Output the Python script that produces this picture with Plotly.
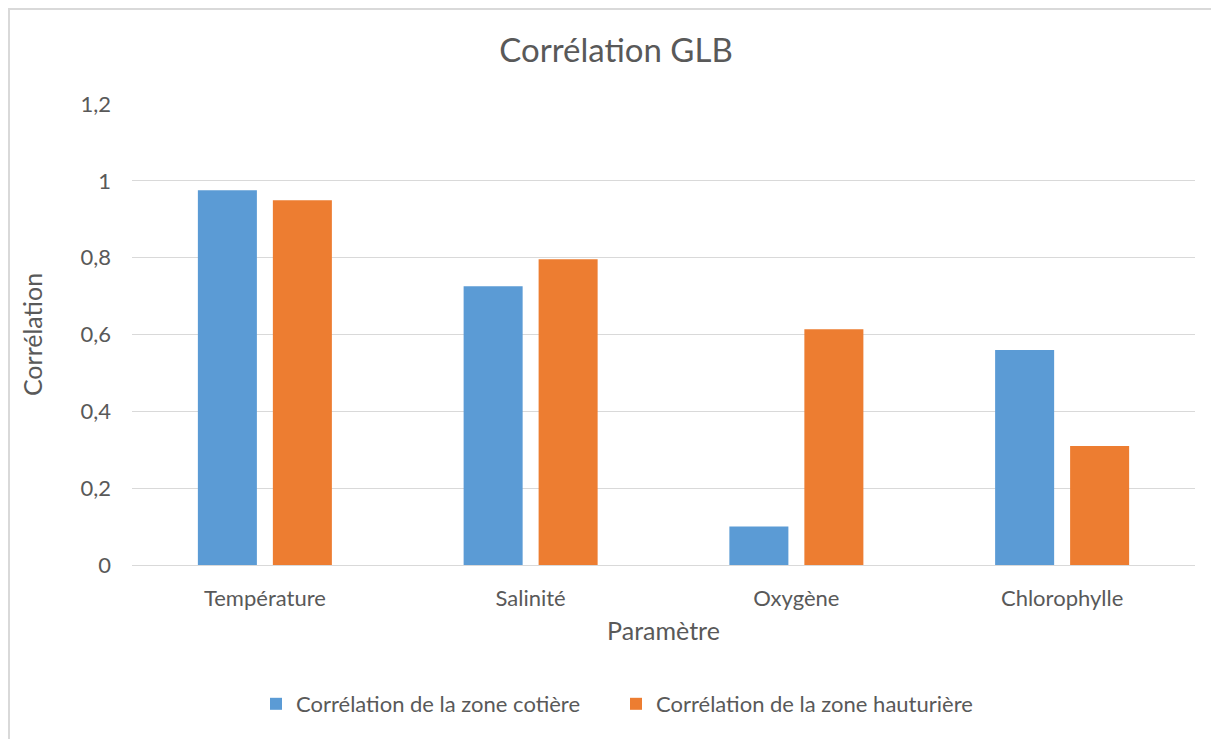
import plotly.graph_objects as go

categories = ["Température", "Salinité", "Oxygène", "Chlorophylle"]
cotiere = [0.976, 0.726, 0.10, 0.56]
hauturiere = [0.95, 0.796, 0.614, 0.31]
tick_vals = [0, 0.2, 0.4, 0.6, 0.8, 1, 1.2]
tick_text = ["0", "0,2", "0,4", "0,6", "0,8", "1", "1,2"]

OFF = 8  # page body margin
W, H = 1219 - OFF, 739 - OFF
L, T = 132 - OFF, 104 - OFF
R = W - (1195 - OFF)
B = H - (565 - OFF)
pw, ph = W - L - R, H - T - B

def py(y):
    return (H - B - (y - OFF)) / ph

font = "Lato, Open Sans, sans-serif"
grey = "#595959"

fig = go.Figure()
fig.add_trace(go.Bar(x=categories, y=cotiere, name="Corrélation de la zone cotière",
                     marker=dict(color="#5B9BD5", line=dict(width=0))))
fig.add_trace(go.Bar(x=categories, y=hauturiere, name="Corrélation de la zone hauturière",
                     marker=dict(color="#ED7D31", line=dict(width=0))))

fig.update_layout(
    width=W, height=H,
    margin=dict(l=L, r=R, t=T, b=B),
    paper_bgcolor="white", plot_bgcolor="white",
    barmode="group", bargap=0.4356, bargroupgap=0.213,
    font=dict(family=font, color=grey, size=22),
    title=dict(text="Corrélation GLB", xref="container", x=(616 - OFF) / W, xanchor="center",
               yref="container", y=1 - (50 - OFF) / H, yanchor="middle",
               font=dict(size=33, color=grey, family=font)),
    xaxis=dict(showgrid=False, showline=True, linecolor="#d9d9d9", linewidth=1,
               ticks="", tickfont=dict(size=22, color=grey), ticklabelstandoff=14,
               title=dict(text="Paramètre", font=dict(size=25, color=grey), standoff=12)),
    yaxis=dict(range=[0, 1.2005], tickvals=tick_vals, ticktext=tick_text,
               showgrid=True, gridcolor="#d9d9d9", gridwidth=1, zeroline=False,
               showline=False, ticks="", tickfont=dict(size=22, color=grey),
               ticklabelstandoff=20,
               title=dict(text="Corrélation", font=dict(size=25, color=grey), standoff=30)),
    legend=dict(orientation="h", x=(616 - OFF - L) / pw, xanchor="center", y=py(704), yanchor="middle",
                font=dict(size=22, color=grey), traceorder="normal",
                entrywidth=315, entrywidthmode="pixels", itemwidth=30),
    shapes=[
        dict(type="line", xref="paper", yref="paper", x0=-L / pw, x1=1.05, y0=py(OFF + 1), y1=py(OFF + 1),
             line=dict(color="#d9d9d9", width=2)),
        dict(type="line", xref="paper", yref="paper", x0=-L / pw + 1 / pw, x1=-L / pw + 1 / pw,
             y0=py(OFF + 1), y1=py(760), line=dict(color="#d9d9d9", width=2)),
    ],
)

fig.write_html("out.html")
